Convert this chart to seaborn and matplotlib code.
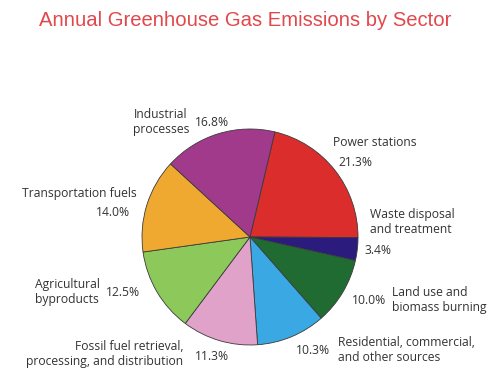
import matplotlib
matplotlib.use("Agg")
import matplotlib.pyplot as plt
import seaborn as sns

sns.set_theme(style="white")
plt.rcParams["font.family"] = ["Open Sans", "DejaVu Sans"]

# Sector shares (percent), listed clockwise starting with power stations
sectors = [
    "Power stations",
    "Waste disposal and treatment",
    "Land use and biomass burning",
    "Residential, commercial, and other sources",
    "Fossil fuel retrieval, processing, and distribution",
    "Agricultural byproducts",
    "Transportation fuels",
    "Industrial processes",
]
shares = [21.3, 3.4, 10.0, 10.3, 11.3, 12.5, 14.0, 16.8]
colors = ["#dc2d2d", "#2b1b7c", "#1f6b31", "#3aa8e3",
          "#e0a2c8", "#8cc85a", "#f0a930", "#a23a8c"]

# Label text for each sector as it is laid out beside the pie
name_texts = [
    "Power stations",
    "Waste disposal\nand treatment",
    "Land use and\nbiomass burning",
    "Residential, commercial,\nand other sources",
    "Fossil fuel retrieval,\nprocessing, and distribution",
    "Agricultural\nbyproducts",
    "Transportation fuels",
    "Industrial\nprocesses",
]

W, H = 490, 370
fig = plt.figure(figsize=(W / 100, H / 100), dpi=100)
ax = fig.add_axes([0, 0, 1, 1])

cx, cy, r = 250, H - 237, 108
start = 360 * shares[0] / 100
ax.pie(shares, colors=colors, startangle=start, counterclock=False,
       center=(cx, cy), radius=r, frame=True,
       wedgeprops=dict(edgecolor="#3a3a3a", linewidth=0.6))
ax.set_xlim(0, W)
ax.set_ylim(0, H)
ax.set_aspect("equal")
ax.axis("off")

fig.text(0.5, 1 - 20 / H, "Annual Greenhouse Gas Emissions by Sector",
         ha="center", va="center", color="#e2474b", fontsize=14.6,
         family=["Liberation Sans", "DejaVu Sans"])

txt = dict(color="#333333", fontsize=8.7, va="center", linespacing=1.15)

# (x, y in pixels from top) positions for names and percentages
name_pos = [(333, 143, "left", "left"),
            (370, 222, "left", "left"),
            (392, 300, "left", "left"),
            (338, 350, "left", "left"),
            (183, 354, "right", "right"),
            (67, 292, "center", "center"),
            (137, 193, "right", "right"),
            (161, 122, "center", "center")]
pct_pos = [(338, 162, "left"),
           (364, 251, "left"),
           (386, 300, "right"),
           (330, 350, "right"),
           (195, 357, "left"),
           (106, 293, "left"),
           (130, 213, "right"),
           (195, 122, "left")]

for name, share, (nx, ny, ha, ma), (px, py, pha) in zip(name_texts, shares, name_pos, pct_pos):
    ax.text(nx, H - ny, name, ha=ha, multialignment=ma, **txt)
    ax.text(px, H - py, f"{share:.1f}%", ha=pha, **txt)

fig.savefig("out.png", dpi=100, facecolor="white")
